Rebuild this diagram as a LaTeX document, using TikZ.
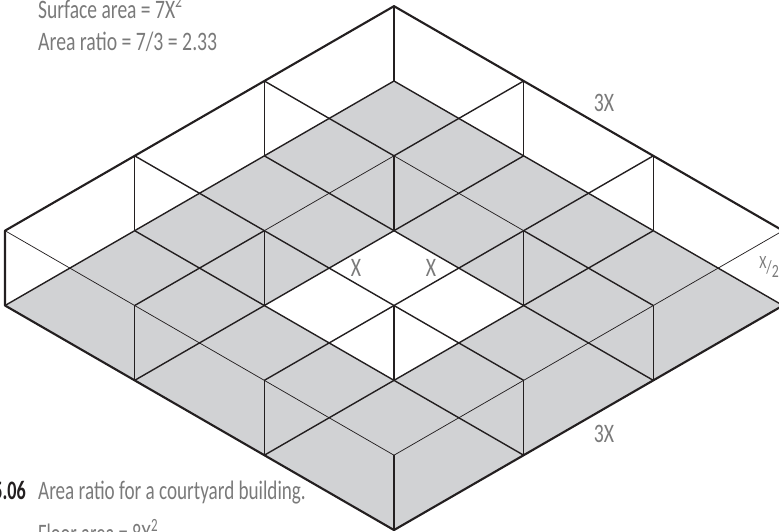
\documentclass[tikz,border=0pt]{standalone}
\usepackage{fontspec}
\setmainfont{Carlito}
\definecolor{mFloorGray}{HTML}{d1d2d4}
\definecolor{mTextGray}{HTML}{7a7a7a}
\definecolor{mLineDark}{HTML}{231f20}
\begin{document}
\begin{tikzpicture}[
      x=0.75pt, y=-0.75pt,
      outeredge/.style={draw=mLineDark, line width=1.6pt, line join=round},
      midedge/.style={draw=mLineDark, line width=1.05pt},
      thinedge/.style={draw=mLineDark, line width=0.55pt},
      lbl/.style={text=mTextGray, font=\fontsize{20}{22}\selectfont, inner sep=0pt, xscale=0.74},
      capt/.style={lbl, anchor=base west}
    ]
    \useasboundingbox (0,0) rectangle (779,532);
    \clip (0,0) rectangle (779,532);
    % lattice of the drawing
    \foreach \a in {0,...,7}
      \foreach \b in {0,...,7}
        \coordinate (g\a\b) at ({394+(\a-\b)*64.83},{81+(\a+\b-2)*37.42});
    \fill[mFloorGray] (g11) -- (g71) -- (g77) -- (g17) -- cycle;
    \fill[white] (g33) -- (g53) -- (g55) -- (g35) -- cycle;
    \foreach \p/\q in {g11/g71, g02/g22, g42/g62, g13/g73, g04/g64, g15/g75,
                       g11/g17, g20/g22, g24/g26, g31/g37, g40/g46, g51/g57}
      \draw[midedge] (\p) -- (\q);
    \foreach \p/\q in {g22/g42, g06/g66, g22/g24, g60/g66}
      \draw[thinedge] (\p) -- (\q);
    % walls
    \foreach \i/\k in {0/1,2/3,4/5,6/7}
      \foreach \j/\l in {0/1,2/3,4/5,6/7}
        \draw[midedge] (g\i\j) -- (g\k\l);
    \draw[outeredge] (g17) -- (g06) -- (g00) -- (g60) -- (g71) -- (g77) -- cycle;
    \node[capt, xscale=0.99] (surf) at (38,18) {Surface area = 7X\textsuperscript{2}};
    \node[capt] (ratio) at (38,50) {Area ratio = 7/3 = 2.33};
    \node[lbl] (top3x) at (604,103) {3X};
    \node[lbl] (bot3x) at (604,434) {3X};
    \node[lbl] (xa) at (356,268) {X};
    \node[lbl] (xb) at (431,268) {X};
    \node[lbl, font=\fontsize{14}{14}\selectfont] (halfx) at (769,267) {\raisebox{4pt}{X}/\raisebox{-3pt}{2}};
    \node[capt, anchor=base east, font=\fontsize{20}{22}\selectfont\bfseries, text=mLineDark, xscale=0.92] (fignum) at (26,499) {5.06};
    \node[capt, xscale=0.97] (title) at (38,499) {Area ratio for a courtyard building.};
    \node[capt, xscale=0.94] (floor) at (38,542) {Floor area = 8X\textsuperscript{2}};
  \end{tikzpicture}
\end{document}
